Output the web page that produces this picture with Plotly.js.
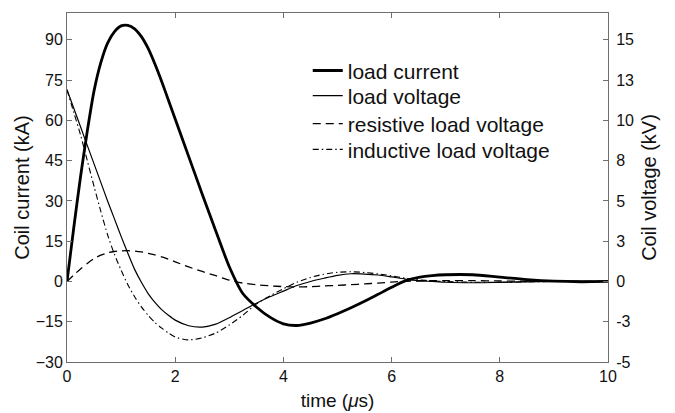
<!DOCTYPE html>
<html>
<head>
<meta charset="utf-8">
<script src="https://cdn.plot.ly/plotly-3.0.1.min.js"></script>
<style>html,body{margin:0;padding:0;background:#fff;}#chart{width:675px;height:413px;}</style>
</head>
<body>
<div id="chart"></div>
<script>
// time (µs)
const timeUs = [0,0.125,0.25,0.375,0.5,0.625,0.75,0.875,1.0,1.125,1.25,1.375,1.5,1.625,1.75,1.875,2.0,2.25,2.5,2.75,3.0,3.25,3.5,3.75,4.0,4.25,4.5,4.75,5.0,5.25,5.5,5.75,6.0,6.25,6.5,6.75,7.0,7.5,8.0,8.5,9.0,9.5,10];
// load current (kA) — left axis
const loadCurrent = [0,20,39,56,71,81.5,88.8,93,95.2,95.4,94.1,91.2,86.8,81,74.5,67.5,60.5,46.5,32.5,18.8,5.5,-4.5,-9.5,-13.3,-15.8,-16.4,-15.5,-14,-12,-9.8,-7.4,-4.8,-2.2,0.2,1.5,2.2,2.5,2.5,1.6,0.7,0.1,-0.1,0];
// voltages (kV) — right axis
const loadVoltage = [11.9,10.75,9.6,8.45,7.3,6.15,5.0,3.9,2.8,1.75,0.75,-0.05,-0.75,-1.3,-1.75,-2.1,-2.4,-2.75,-2.83,-2.65,-2.25,-1.8,-1.35,-0.95,-0.6,-0.25,0.0,0.2,0.38,0.48,0.46,0.4,0.28,0.15,0.05,0.0,-0.05,-0.08,-0.06,-0.03,0,0,0];
const resistiveVoltage = [0,0.4,0.78,1.12,1.42,1.63,1.78,1.86,1.9,1.91,1.88,1.83,1.75,1.65,1.53,1.38,1.22,0.9,0.62,0.36,0.08,-0.1,-0.2,-0.27,-0.32,-0.34,-0.32,-0.28,-0.24,-0.2,-0.15,-0.1,-0.04,0.01,0.03,0.045,0.05,0.05,0.03,0.01,0,0,0];
const inductiveVoltage = [11.9,10.5,9.1,7.5,5.9,4.35,2.9,1.7,0.7,-0.2,-0.95,-1.58,-2.1,-2.55,-2.9,-3.2,-3.45,-3.63,-3.5,-3.2,-2.7,-2.1,-1.4,-0.9,-0.45,-0.05,0.25,0.45,0.57,0.6,0.56,0.47,0.35,0.2,0.1,0.04,0.0,-0.05,-0.05,-0.02,0,0,0];
// tick labels
const leftTicks = [-30,-15,0,15,30,45,60,75,90];
const rightTickVals = [-5,-2.5,0,2.5,5,7.5,10,12.5,15];
const rightTickText = ['-5','-3','0','3','5','8','10','13','15'];
const xTicks = [0,2,4,6,8,10];

const font = 'Arial, "Liberation Sans", sans-serif';
const legFont = {family: font, size: 21, color: '#111'};
function leg(y) {
  return {x: 0.445, y: y, xanchor: 'left', yanchor: 'top', bgcolor: 'rgba(0,0,0,0)', font: legFont, itemwidth: 30};
}
const traces = [
  {x: timeUs, y: loadCurrent, name: 'load current', type: 'scatter', mode: 'lines', yaxis: 'y', legend: 'legend',
   line: {color: '#000', width: 2.8, shape: 'spline', smoothing: 0.7}},
  {x: timeUs, y: loadVoltage, name: 'load voltage', type: 'scatter', mode: 'lines', yaxis: 'y2', legend: 'legend2',
   line: {color: '#000', width: 1.2, shape: 'spline', smoothing: 0.7}},
  {x: timeUs, y: resistiveVoltage, name: 'resistive load voltage', type: 'scatter', mode: 'lines', yaxis: 'y2', legend: 'legend3',
   line: {color: '#000', width: 1.3, dash: '8px,5px', shape: 'spline', smoothing: 0.7}},
  {x: timeUs, y: inductiveVoltage, name: 'inductive load voltage', type: 'scatter', mode: 'lines', yaxis: 'y2', legend: 'legend4',
   line: {color: '#000', width: 1.1, dash: '6px,3px,1.5px,3px', shape: 'spline', smoothing: 0.7}}
];
const axColor = '#6e6e6e';
const layout = {
  width: 675, height: 413,
  margin: {l: 67, r: 67, t: 13, b: 51},
  paper_bgcolor: '#fff', plot_bgcolor: '#fff',
  font: {family: font, color: '#111', size: 16},
  showlegend: true,
  legend: leg(0.893), legend2: leg(0.821), legend3: leg(0.741), legend4: leg(0.667),
  xaxis: {range: [0, 10], tickvals: xTicks, ticks: 'inside', ticklen: 5, tickcolor: axColor,
          showline: true, linecolor: axColor, linewidth: 1, mirror: 'ticks', showgrid: false, zeroline: false,
          tickfont: {size: 16}, title: {text: 'time (<i>μ</i>s)', font: {size: 19}, standoff: 9}},
  yaxis: {range: [-30, 100], tickvals: leftTicks, ticks: 'inside', ticklen: 5, tickcolor: axColor,
          showline: true, linecolor: axColor, linewidth: 1, showgrid: false, zeroline: false,
          tickfont: {size: 16}, title: {text: 'Coil current (kA)', font: {size: 20}, standoff: 0}},
  yaxis2: {range: [-5, 100/6], overlaying: 'y', side: 'right', tickvals: rightTickVals, ticktext: rightTickText,
           ticks: 'inside', ticklen: 5, tickcolor: axColor, showline: true, linecolor: axColor, linewidth: 1,
           showgrid: false, zeroline: false, tickfont: {size: 16}, ticklabelstandoff: 4,
           title: {text: 'Coil voltage (kV)', font: {size: 20}, standoff: 8}}
};
Plotly.newPlot('chart', traces, layout, {displayModeBar: false, staticPlot: true});
</script>
</body>
</html>
